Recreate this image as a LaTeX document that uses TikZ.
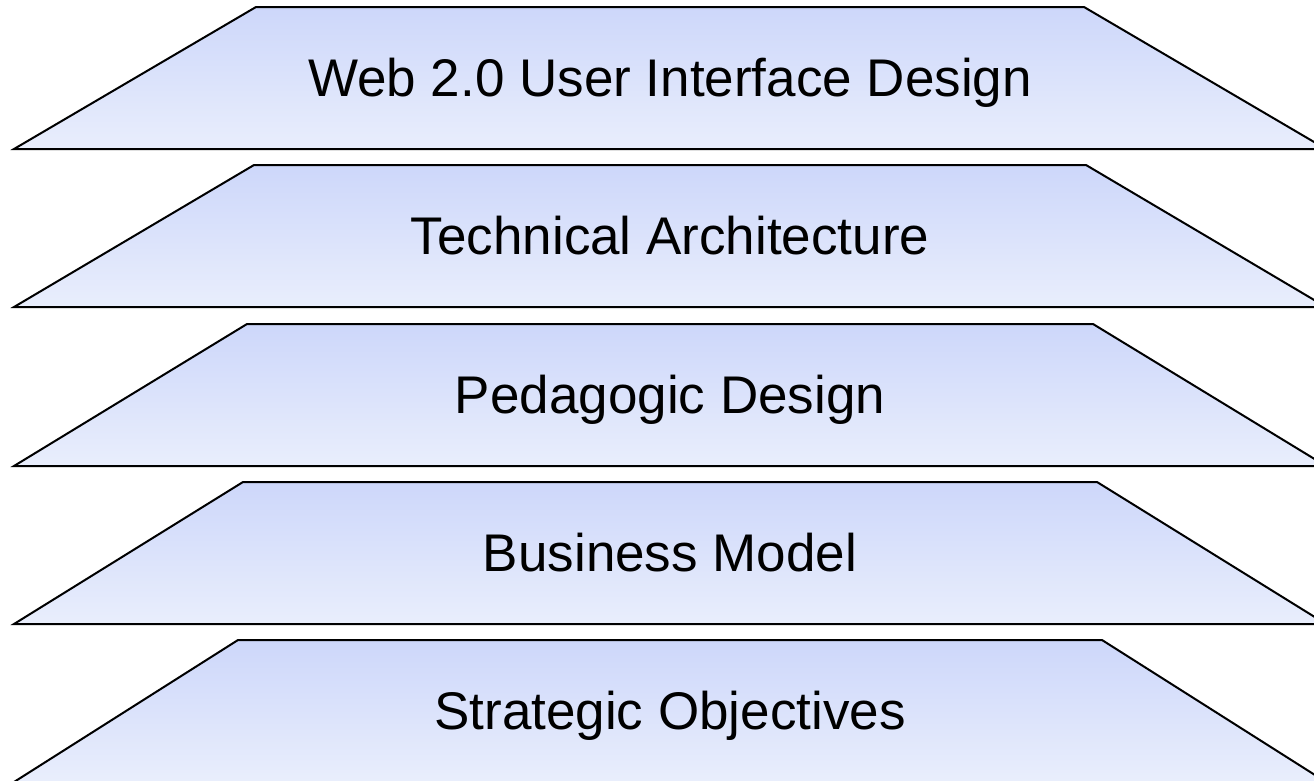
\documentclass[tikz,border=0pt]{standalone}
\usepackage{fontspec}
\setmainfont{Liberation Sans}
\definecolor{layertop}{RGB}{205,215,250}
\definecolor{layerbot}{RGB}{233,238,252}

\begin{document}
\begin{tikzpicture}[x=1pt,y=-1pt,
		layer/.style={draw=black,line width=2pt,line join=miter,top color=layertop,bottom color=layerbot},
		layertext/.style={font=\fontsize{53}{60}\selectfont,anchor=base}]
		\useasboundingbox (0,0) rectangle (1314,780);
		\clip (0,0) rectangle (1314,780);
		% stacked layers: top half width / top edge / name / label
		\foreach \hw/\ty/\n/\txt in {414/7/web/{Web 2.0 User Interface Design},
				416/165/tech/{Technical Architecture},
				423/324/ped/{Pedagogic Design},
				427/482/bus/{Business Model},
				432/640/strat/{Strategic Objectives}}{
			% corners
			\coordinate (\n TL) at ({670-\hw},\ty);
			\coordinate (\n TR) at ({670+\hw},\ty);
			\coordinate (\n BR) at (1326,{\ty+142});
			\coordinate (\n BL) at (14,{\ty+142});
			\draw[layer] (\n TL) -- (\n TR) -- (\n BR) -- (\n BL) -- cycle;
			% label
			\node[layertext] (\n) at (670,{\ty+89}) {\txt};
		}
	\end{tikzpicture}
\end{document}
